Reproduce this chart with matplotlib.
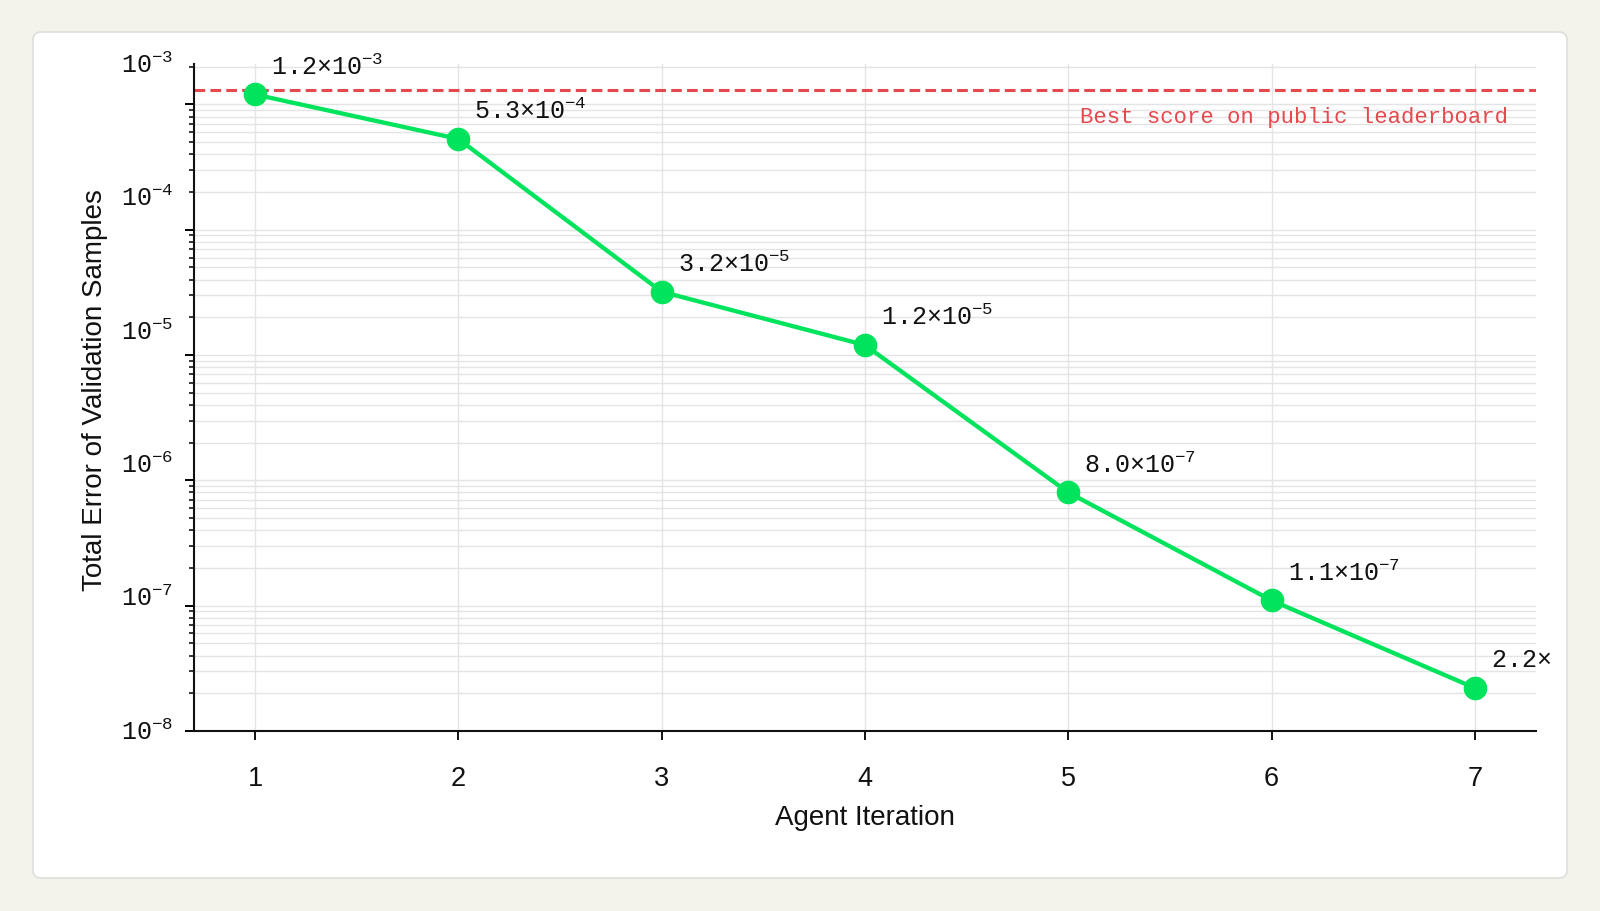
import numpy as np
import matplotlib
matplotlib.use('Agg')
import matplotlib.pyplot as plt
from matplotlib.patches import FancyBboxPatch
from matplotlib.transforms import Bbox, TransformedBbox

plt.rcParams['mathtext.fontset'] = 'custom'
plt.rcParams['mathtext.rm'] = 'Liberation Mono'
plt.rcParams['mathtext.default'] = 'regular'

iterations = [1, 2, 3, 4, 5, 6, 7]
errors = [1.2e-3, 5.3e-4, 3.2e-5, 1.2e-5, 8.0e-7, 1.1e-7, 2.2e-8]
best_public = 1.3e-3
best_label = 'Best score on public leaderboard'
ytick_exps = [-8, -7, -6, -5, -4, -3]

green = '#00E35C'
red = '#E5484D'
mono = 'Liberation Mono'
sans = 'Liberation Sans'


def sci_label(v):
    e = int(np.floor(np.log10(v)))
    m = v / 10 ** e
    return f'{m:.1f}×10$^{{{e}}}$'


fig = plt.figure(figsize=(16, 9.12), dpi=100)
fig.patch.set_facecolor('#F3F3EC')

# white card behind the plot
card = FancyBboxPatch((0.33, 0.33), 15.34, 8.46,
                      boxstyle='round,pad=0,rounding_size=0.08',
                      transform=fig.dpi_scale_trans,
                      facecolor='white', edgecolor='#DADADA', lw=1.0, zorder=-5)
fig.patches.append(card)

ax = fig.add_axes([0.12125, 0.19737, 0.83875, 0.73136])
ax.set_zorder(1)
ax.set_facecolor('none')
ax.set_yscale('log')
ax.set_ylim(1e-8, 2.1e-3)
ax.set_xlim(0.7, 7.3)

ax.grid(True, which='both', axis='y', color='#E4E4E4', lw=1.0, zorder=0)
ax.grid(True, which='major', axis='x', color='#E4E4E4', lw=1.0, zorder=0)
ax.set_axisbelow(True)

for s in ['top', 'right']:
    ax.spines[s].set_visible(False)
for s in ['left', 'bottom']:
    ax.spines[s].set_linewidth(1.5)
    ax.spines[s].set_color('#111111')

ax.axhline(best_public, color=red, lw=2.2, ls=(0, (3.5, 1.7)), zorder=2)
ax.annotate(best_label, xy=(0.979, best_public), xycoords=('axes fraction', 'data'),
            xytext=(0, -23), textcoords='offset points', ha='right', va='baseline',
            color=red, fontsize=16, family=mono)

ax.plot(iterations, errors, color=green, lw=3.1, marker='o', markersize=16, zorder=3)

clip = TransformedBbox(Bbox([[0, 0], [1552 / 1600, 1]]), fig.transFigure)
for x, v in zip(iterations, errors):
    t = ax.annotate(sci_label(v), xy=(x, v), xytext=(11.5, 15), textcoords='offset points',
                    ha='left', va='baseline', fontsize=18, family=mono, color='#111111')
    t.set_clip_box(clip)
    t.set_clip_on(True)

ax.set_xticks(iterations)
ax.tick_params(axis='x', which='major', length=6.5, width=1.4, pad=18,
               labelsize=19.5, colors='#111111')
for lab in ax.get_xticklabels():
    lab.set_family(sans)

ax.tick_params(axis='y', which='major', length=6.5, width=1.4, labelleft=False)
ax.tick_params(axis='y', which='minor', length=3.5, width=1.1, labelleft=False)

# y labels spread evenly along the axis
n = len(ytick_exps)
for i, e in enumerate(ytick_exps):
    ax.text(-0.0156, i / (n - 1), f'10$^{{{e}}}$', transform=ax.transAxes,
            ha='right', va='center', fontsize=18, family=mono, color='#111111')

ax.set_xlabel('Agent Iteration', fontsize=20, family=sans, color='#111111')
ax.set_ylabel('Total Error of Validation Samples', fontsize=20, family=sans, color='#111111')
ax.xaxis.set_label_coords(0.5, -0.109)
ax.yaxis.set_label_coords(-0.064, 0.512)

fig.savefig('out.png', dpi=100, facecolor=fig.get_facecolor())
